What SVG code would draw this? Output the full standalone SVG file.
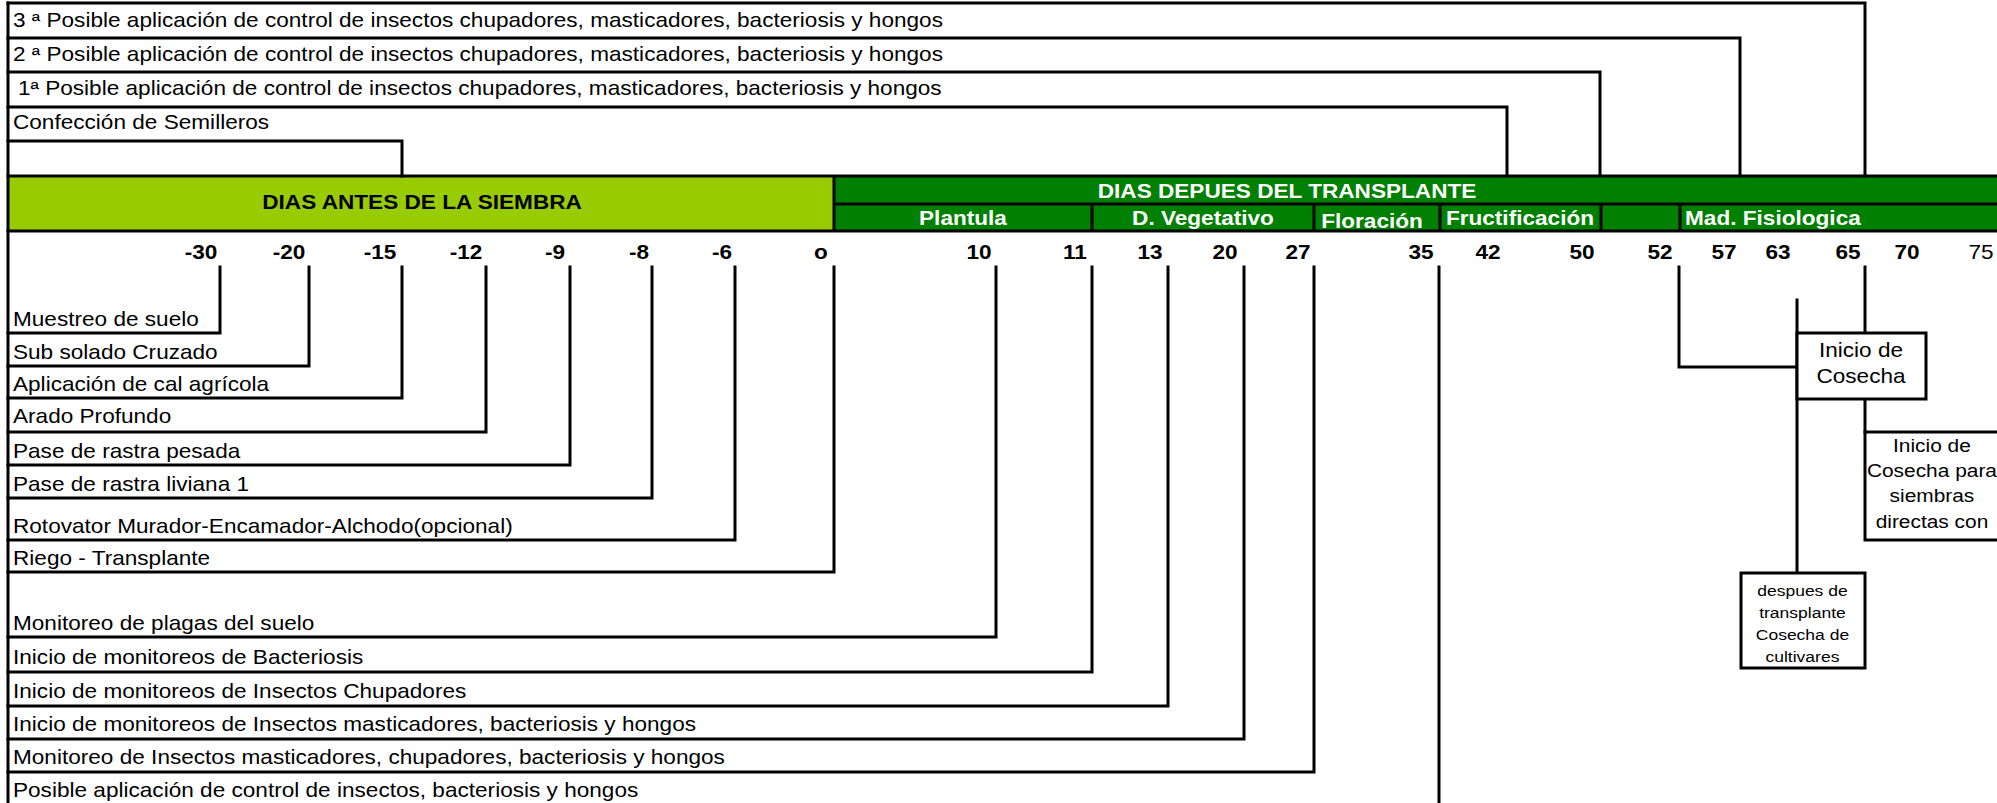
<svg xmlns="http://www.w3.org/2000/svg" width="1997" height="803" viewBox="0 0 1997 803">
<style>
.t{font-family:"Liberation Sans",Arial,sans-serif;font-size:20px;fill:#000}
.b{font-weight:bold}
.w{fill:#fff}
.m{text-anchor:middle}
.s{font-size:18.5px}
.xs{font-size:15.5px}
.ln{stroke:#000;stroke-width:3;fill:none;stroke-linecap:square}
.bx{stroke:#000;stroke-width:3;fill:#fff}
</style>
<rect x="0" y="0" width="1997" height="803" fill="#fff"/>
<g id="header">
<rect x="8" y="176" width="826" height="55" fill="#99CC00"/>
<rect x="834" y="176" width="1163" height="55" fill="#008000"/>
<path class="ln" d="M8 176H1997M8 231H1997M834 176V231M834 204H1997M1092 204V231M1314 204V231M1440 204V231M1601 204V231M1680 204V231"/>
<g transform="scale(1.13 1)">
<text class="t b m" x="373.5" y="209">DIAS ANTES DE LA SIEMBRA</text>
<text class="t b w m" x="1139" y="198">DIAS DEPUES DEL TRANSPLANTE</text>
<text class="t b w m" x="852.2" y="225">Plantula</text>
<text class="t b w m" x="1064.6" y="225">D. Vegetativo</text>
<text class="t b w m" x="1214.2" y="228">Floración</text>
<text class="t b w m" x="1345.1" y="225">Fructificación</text>
<text class="t b w" x="1491.2" y="225">Mad. Fisiologica</text>
</g>
</g>
<g id="scale" transform="scale(1.13 1)">
<text class="t b m" x="177.9" y="259">-30</text>
<text class="t b m" x="255.8" y="259">-20</text>
<text class="t b m" x="336.3" y="259">-15</text>
<text class="t b m" x="412.4" y="259">-12</text>
<text class="t b m" x="491.2" y="259">-9</text>
<text class="t b m" x="565.5" y="259">-8</text>
<text class="t b m" x="639" y="259">-6</text>
<text class="t b m" x="726.5" y="259">o</text>
<text class="t b m" x="866.4" y="259">10</text>
<text class="t b m" x="951.3" y="259">11</text>
<text class="t b m" x="1017.7" y="259">13</text>
<text class="t b m" x="1084.1" y="259">20</text>
<text class="t b m" x="1148.7" y="259">27</text>
<text class="t b m" x="1257.5" y="259">35</text>
<text class="t b m" x="1316.8" y="259">42</text>
<text class="t b m" x="1400" y="259">50</text>
<text class="t b m" x="1469" y="259">52</text>
<text class="t b m" x="1525.7" y="259">57</text>
<text class="t b m" x="1573.5" y="259">63</text>
<text class="t b m" x="1635.4" y="259">65</text>
<text class="t b m" x="1687.6" y="259">70</text>
<text class="t m" x="1753.1" y="259">75</text>
</g>
<g id="connectors">
<path class="ln" d="M8 3V803"/>
<path class="ln" d="M8 3H1865V176"/>
<path class="ln" d="M8 38H1740V176"/>
<path class="ln" d="M8 72H1600V176"/>
<path class="ln" d="M8 107H1507V176"/>
<path class="ln" d="M8 141H402V176"/>
<path class="ln" d="M220 267V333H8"/>
<path class="ln" d="M309 267V366H8"/>
<path class="ln" d="M402 267V398H8"/>
<path class="ln" d="M486 267V432H8"/>
<path class="ln" d="M570 267V465H8"/>
<path class="ln" d="M652 267V498H8"/>
<path class="ln" d="M735 267V540H8"/>
<path class="ln" d="M834 267V572H8"/>
<path class="ln" d="M996 267V637H8"/>
<path class="ln" d="M1092 267V672H8"/>
<path class="ln" d="M1168 267V706H8"/>
<path class="ln" d="M1244 267V739H8"/>
<path class="ln" d="M1314 267V772H8"/>
<path class="ln" d="M1439 267V803"/>
<path class="ln" d="M1679 267V367H1797"/>
<path class="ln" d="M1797 300V573"/>
<path class="ln" d="M1865 267V333M1865 399V432"/>
</g>
<g id="labels" transform="scale(1.13 1)">
<text class="t" x="11.5" y="27">3 ª Posible aplicación de control de insectos chupadores, masticadores, bacteriosis y hongos</text>
<text class="t" x="11.5" y="61">2 ª Posible aplicación de control de insectos chupadores, masticadores, bacteriosis y hongos</text>
<text class="t" x="15.9" y="95">1ª Posible aplicación de control de insectos chupadores, masticadores, bacteriosis y hongos</text>
<text class="t" x="11.5" y="129">Confección de Semilleros</text>
<text class="t" x="11.5" y="326">Muestreo de suelo</text>
<text class="t" x="11.5" y="359">Sub solado Cruzado</text>
<text class="t" x="11.5" y="391">Aplicación de cal agrícola</text>
<text class="t" x="11.5" y="423">Arado Profundo</text>
<text class="t" x="11.5" y="458">Pase de rastra pesada</text>
<text class="t" x="11.5" y="491">Pase de rastra liviana 1</text>
<text class="t" x="11.5" y="533">Rotovator Murador-Encamador-Alchodo(opcional)</text>
<text class="t" x="11.5" y="565">Riego - Transplante</text>
<text class="t" x="11.5" y="630">Monitoreo de plagas del suelo</text>
<text class="t" x="11.5" y="664">Inicio de monitoreos de Bacteriosis</text>
<text class="t" x="11.5" y="698">Inicio de monitoreos de Insectos Chupadores</text>
<text class="t" x="11.5" y="731">Inicio de monitoreos de Insectos masticadores, bacteriosis y hongos</text>
<text class="t" x="11.5" y="764">Monitoreo de Insectos masticadores, chupadores, bacteriosis y hongos</text>
<text class="t" x="11.5" y="797">Posible aplicación de control de insectos, bacteriosis y hongos</text>
</g>
<g id="inicio-cosecha">
<rect class="bx" x="1797" y="333" width="129" height="66"/>
<g transform="scale(1.13 1)">
<text class="t m" x="1646.9" y="357">Inicio de</text>
<text class="t m" x="1646.9" y="383">Cosecha</text>
</g>
</g>
<g id="cosecha-siembras-directas">
<rect class="bx" x="1865" y="432" width="140" height="108"/>
<g transform="scale(1.13 1)">
<text class="t s m" x="1709.7" y="452">Inicio de</text>
<text class="t s m" x="1709.7" y="477">Cosecha para</text>
<text class="t s m" x="1709.7" y="502">siembras</text>
<text class="t s m" x="1709.7" y="528">directas con</text>
</g>
</g>
<g id="cosecha-cultivares">
<rect class="bx" x="1741" y="573" width="124" height="95"/>
<g transform="scale(1.13 1)">
<text class="t xs m" x="1595.1" y="596">despues de</text>
<text class="t xs m" x="1595.1" y="618">transplante</text>
<text class="t xs m" x="1595.1" y="640">Cosecha de</text>
<text class="t xs m" x="1595.1" y="662">cultivares</text>
</g>
</g>
</svg>
